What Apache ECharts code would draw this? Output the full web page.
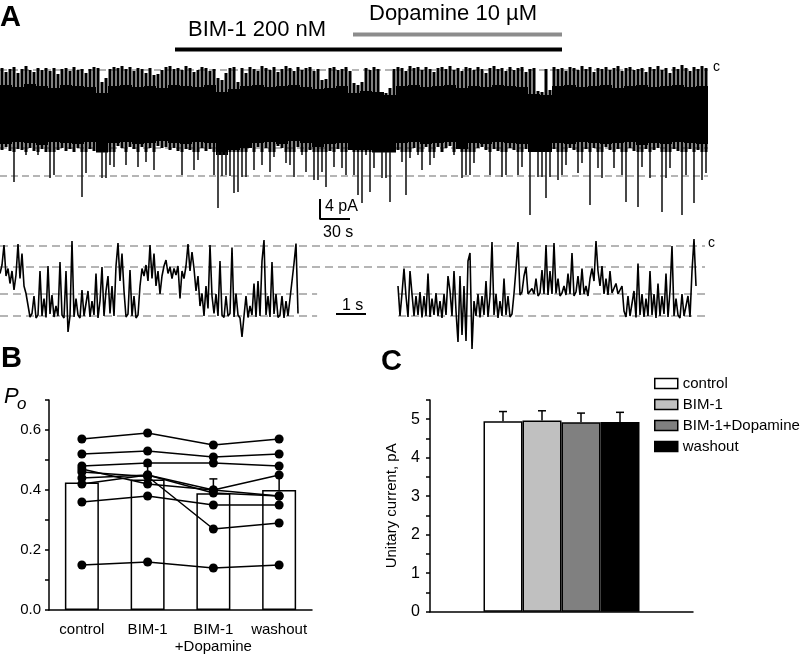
<!DOCTYPE html>
<html><head><meta charset="utf-8">
<script src="https://cdn.jsdelivr.net/npm/echarts@6/dist/echarts.min.js"></script>
<style>html,body{margin:0;padding:0;background:#fff}#c{width:805px;height:659px}</style>
</head><body><div id="c"></div>
<script>
// ===== Panel A: long recording (current in pA, c = closed level 0; time in s) =====
const topBinSec = 4;            // each bin = 4 s
const topTraceEnd = 708;        // s
// top (most positive) excursion of the trace in each 4-s bin
const topHi = [0.4,-0.4,0.2,0.6,-0.6,0.2,0.8,0,-0.4,0.4,0,0.4,-0.2,0.4,-0.8,0.2,0.4,-0.2,0.6,0,0.2,-0.6,0.2,0.6,0.4,
  -2.4,-1.6,
  0.2,0.6,0.4,0.8,0.2,0.6,-0.2,0.4,0.2,-0.6,0.4,
  -1,-0.8,0,
  0.6,0.8,0.2,0.4,0,0.8,0.4,-0.4,0,0.6,0.4,-0.2,0.2,
  -1.6,-2,-0.6,
  0.4,0.6,
  -2.4,
  0.4,-0.6,0.6,0.2,-0.2,0.8,0.4,0,0.6,-0.4,0.2,0.8,0.4,-0.2,0.6,0,0.4,0.6,-0.2,0.2,
  -2,-1.8,
  0.4,0.6,0,0.2,0.6,-0.2,
  -2.6,-3,-2.4,
  0.4,0,0.6,0.2,
  -4.4,-4.6,-3.6,
  0.2,0.6,0.4,-0.2,0.8,0.4,0.6,0,0.6,0.2,-0.4,0.4,0.6,0.2,0.8,0,0.4,-0.2,0.6,0.4,0,0.6,0.2,-0.6,0.4,0.8,0.2,0.4,-0.2,0.6,0,0.4,0.6,-0.4,0.2,0.4,
  -4.2,-4.4,0.2,-4,
  0.6,0.2,0.4,-0.2,0.6,0.4,0,0.8,0.2,0.6,-0.4,0.4,0.2,0.6,0,0.4,0.8,-0.2,0.4,0.6,0,0.2,0.4,-0.4,0.6,0.2,0.8,0,0.4,-0.6,0.6,0.2,1.0,0.4,-0.2,0.6,0.2,0.8,0.4];
// bottom (most negative) excursion of the trace in each 4-s bin
const topLo = [-16,-15.4,-16.2,-22.4,-15.8,-16,-17,-15.6,-16.2,-17,
  -15.8,-16.4,-21.6,-21,-16,-15.6,-16.2,-15.8,-16.4,-15.6,
  -25.4,-20.6,-15.8,-16.2,-15.4,-21.6,-21.6,-19,-19.4,-15.2,
  -15.6,-19,-15.4,-15.8,-19.4,-15.4,-18.4,-15.6,-20,-15.2,
  -15.6,-15.4,-16,-15.6,-16.2,-21,-15.8,-16,-20,-18,
  -15.6,-16.2,-15.8,-21,-27.6,-21.2,-21,-21.2,-24.6,-24.4,
  -21.4,-21.4,-15.6,-20,-15.4,-19,-15.6,-20.4,-17.4,-15.2,
  -15.6,-18.6,-19,-21.4,-15.4,-17,-20.4,-16,-22,-22,
  -20.4,-23.4,-16.2,-19.4,-15.8,-19.6,-21,-16,-21,-25,
  -26.6,-17,-24.4,-19.6,-16,-21.6,-21.6,-26.4,-15.8,-16,
  -18.4,-25,-17.6,-15.6,-17,-20,-15.4,-19,-17.6,-15.4,
  -16.4,-15.6,-15.2,-17,-15.6,-21.6,-21,-21,-18.6,-15.6,
  -15.4,-16,-21,-15.8,-16.2,-21.4,-21,-15.6,-16,-21,
  -19.4,-15.8,-29,-16,-21.4,-21.4,-25.6,-21.4,-15.8,-22,
  -21,-19,-15.6,-16,-20.6,-18.6,-15.8,-27,-15.6,-19.6,
  -21.6,-15.4,-16,-19.6,-15.8,-21,-26.4,-15.6,-16.2,-27.4,
  -19.4,-15.8,-21.6,-16,-15.6,-28.4,-21.6,-19.6,-15.8,-16.2,
  -29,-21,-15.8,-26.6,-16,-22,-20.6];
// dense body of the trace (12-s bins)
const bodyBinSec = 12;
const bodyTop = [-3,-3.4,-2.8,-3.2,-3.6,-3,-3.2,-3.4,-4.6,-3.2,
  -3,-3.4,-3.2,-3.6,-3,-3.2,-3.4,-3,-4.4,-3.8,
  -3.2,-3,-3.4,-3.2,-3,-3.4,-3.8,-3.6,-3.2,-4.6,
  -4.2,-4.4,-5,-3.2,-3,-3.4,-3.2,-3,-3.6,-3.2,
  -3.4,-3,-3.2,-3.4,-4.8,-5,-3.2,-3,-3.4,-3.2,
  -3,-3.6,-3.2,-3,-3.4,-3.2,-3,-3.4,-3.2];
const bodyBot = [-14.8,-14.4,-14.6,-15,-14.4,-14.6,-14.8,-14.4,-16.5,-14.6,
  -14.4,-14.8,-14.6,-14.2,-14.6,-14.8,-14.4,-14.6,-17,-16,
  -15.6,-14.6,-14.4,-14.8,-14.2,-14.6,-15.4,-14.8,-14.6,-16,
  -16,-16.5,-16.5,-14.6,-14.4,-14.8,-14.6,-14.4,-15.8,-14.6,
  -14.8,-14.4,-14.6,-14.8,-16.4,-16.4,-14.6,-14.8,-14.4,-14.6,
  -14.8,-14.6,-14.4,-15,-14.6,-14.8,-14.4,-14.6,-14.8];
const topLevels = [0, -15.6, -21.2];
const drugNames = ['Dopamine 10 µM', 'BIM-1 200 nM'];
const drugSpans = [[353, 562], [175, 562]];
const scaleOrigin = [320, -29.8];
const scalePA = 4, scaleSec = 30;

// ===== Panel A: expanded traces (pA, 1/15-s samples) =====
const lowDt = 1 / 15;
const lowLeftStart = 0;
const lowLeft = [-5.5,-3.8,0.2,-6,-4.5,-7.5,-5,-8.8,-5.8,0.4,
  -6.5,-1.5,-8,-9.5,-9.8,-14.2,-13.5,-10,-14.4,-13.8,
  -5,-14,-10.5,-14.3,-4,-13.6,-9.8,-14.2,-12,-14,
  -3.2,-13.8,-14.4,-5,-17.2,-14,1.0,-14.2,-10.5,-13.8,
  -14.4,-8.8,-14,-13.6,-9,-14.2,-11,-13.8,-5.5,-14.4,
  -11,-4.2,-14,-9,-6,-13.5,-8,-14,-4,0.6,
  -7,-1.5,-9,-14.2,-13.6,-4.8,-14,-10,-14.4,-13.8,
  -8,-4.5,-6,-3.8,-7,0.2,-6.5,-1.5,-8,-5,
  -9.6,-6,-4,-2.8,-5.5,-4.2,-6.5,-4.5,-5.8,-4,
  -10.5,-5,-6.5,-4,0.4,-5,-1.2,-4.5,-9,-6,
  -12,-9.5,-14,-8,-12.5,0.2,-10,-13.5,-9.6,-14,
  -3,-13.8,-14.3,-10,-14,-13.5,-0.3,-14.2,-9.5,-13.8,
  -14.4,-18.2,-14,-10,-14.3,-12,-13.8,-7.5,-14.2,-7,
  -14,-3,1.2,-13.8,-10,-14.2,-3.2,-13.6,-9.6,-14.3,
  -13.8,-10,-14.4,-11,-14,-13.6,-7,-3.5,0.5,-13.5];
const lowRightStart = 398 / 30;
const lowRight = [-8,-14,-9.5,-4.5,-10,-14.2,-5,-9.6,-14,-10,
  -13.8,-9.2,-14.3,-10,-14,-5.5,-14.2,-10.5,-13.8,-9.4,
  -14,-11,-14.4,-9.6,-13.8,-6,-9,-14,-5,-13,
  -19.2,-6,-17.8,-8,-19,-3,-1.4,-20.6,-11,-14,
  -9.6,-14.3,-10,-13.8,-7,-14.2,-10,0.8,-13.8,-9.6,
  -14.4,-11,-14,-6.5,-13.8,-10,-14.2,-13.6,-9.5,-4.5,
  0.8,-9.8,-9.2,-6,-4.2,-9.6,-9.8,-8.5,-9.6,-6.5,
  -10,-9.4,-4.8,-9.6,0.2,-9.8,-5,-9.6,0.6,-9.5,
  -6.5,-10,-9.4,-8,-9.8,-5.5,-9.6,-1.4,-10,-9.2,
  -6,-9.8,-4.5,-9.6,-8,-10,-6.5,-4.5,-7,1.0,
  -5,-8,-4,-9.6,-6.5,-9.8,-5,-9.4,-9.8,-7.5,
  -9.6,-10,-8,-13,-14.2,-10,-14,-13.6,-9,-14.3,
  -3.5,-13.8,-9.6,-14.2,-10.5,-14,-5,-13.8,-9.6,-14.4,
  -7.5,-14,-10,-13.6,-5.5,-14.2,-9,0,-14,-10.5,
  -13.8,-14.4,-9.6,-14,-13.6,-10,-14.2,-5,1.4,-8];
const lowLevels = [0, -4.2, -9.6, -14];
const lowLevelSpans = [
  [[0, 23.5]],
  [[0, 23.5]],
  [[0, 10.57], [13.27, 23.5]],
  [[0, 10.57], [13.27, 23.5]]
];
const oneSecBar = [11.2, 12.2, -13.6];

// ===== Panel B: open probability =====
const poCategories = ['control', 'BIM-1', 'BIM-1\n+Dopamine', 'washout'];
const poMean = [0.425, 0.435, 0.389, 0.40];
const poSem = [0.035, 0.045, 0.048, 0.053];
const poCells = [
  [0.57, 0.59, 0.55, 0.57],
  [0.52, 0.53, 0.51, 0.52],
  [0.48, 0.49, 0.49, 0.48],
  [0.46, 0.445, 0.27, 0.29],
  [0.44, 0.45, 0.40, 0.45],
  [0.42, 0.45, 0.39, 0.38],
  [0.47, 0.42, 0.40, 0.38],
  [0.36, 0.38, 0.35, 0.35],
  [0.15, 0.16, 0.14, 0.15]
];
const poTicks = [0, 0.2, 0.4, 0.6];

// ===== Panel C: unitary current =====
const icNames = ['control', 'BIM-1', 'BIM-1+Dopamine', 'washout'];
const icMean = [4.95, 4.97, 4.92, 4.93];
const icSem = [0.25, 0.25, 0.24, 0.25];
const icColors = ['#ffffff', '#c0c0c0', '#808080', '#000000'];

// ------------------------------------------------------------
const FONT = "'Liberation Sans', Arial, sans-serif";
const chart = echarts.init(document.getElementById('c'), null, {renderer: 'canvas'});

const hidAxis = (o) => Object.assign({show: false, splitLine: {show: false}}, o);
const spikeEdge = -16.4;   // below this the excursions are drawn as thin spikes

const series = [];

// --- top trace dashed levels
topLevels.forEach(l => series.push({
  type: 'line', xAxisIndex: 0, yAxisIndex: 0, data: [[0, l], [topTraceEnd, l]],
  symbol: 'none', silent: true, z: 1,
  lineStyle: {color: '#b5b5b5', width: 2, type: [7, 4]}
}));
// --- body
series.push({
  type: 'custom', xAxisIndex: 0, yAxisIndex: 0, z: 2, silent: true,
  data: bodyTop.map((t, i) => [i * bodyBinSec, Math.min((i + 1) * bodyBinSec, topTraceEnd), t, bodyBot[i]]),
  renderItem(params, api) {
    const p0 = api.coord([api.value(0), api.value(2)]);
    const p1 = api.coord([api.value(1), api.value(3)]);
    return {type: 'rect', shape: {x: p0[0], y: p0[1], width: p1[0] - p0[0], height: p1[1] - p0[1]}, style: {fill: '#000'}};
  }
});
// --- bins excursions
series.push({
  type: 'custom', xAxisIndex: 0, yAxisIndex: 0, z: 3, silent: true,
  data: topHi.map((h, i) => [i * topBinSec + topBinSec / 2, h, topLo[i]]),
  renderItem(params, api) {
    const t = api.value(0), hi = api.value(1), lo = api.value(2);
    const a = api.coord([t, hi]);
    const m = api.coord([t, Math.max(lo, spikeEdge)]);
    const children = [{type: 'line', shape: {x1: a[0], y1: a[1], x2: m[0], y2: m[1]}, style: {stroke: '#000', lineWidth: 3}}];
    if (lo < spikeEdge) {
      const b = api.coord([t, lo]);
      children.push({type: 'line', shape: {x1: m[0], y1: m[1], x2: b[0], y2: b[1]}, style: {stroke: '#1a1a1a', lineWidth: 1.6}});
    }
    return {type: 'group', children};
  }
});
// --- scale bar
series.push({
  type: 'line', xAxisIndex: 0, yAxisIndex: 0, symbol: 'none', silent: true, z: 3,
  data: [[scaleOrigin[0], scaleOrigin[1] + scalePA], scaleOrigin, [scaleOrigin[0] + scaleSec, scaleOrigin[1]]],
  lineStyle: {color: '#000', width: 2}
});
// --- drug bars
series.push({
  type: 'line', xAxisIndex: 1, yAxisIndex: 1, symbol: 'none', silent: true,
  data: drugSpans[0].map(t => [t, drugNames[0]]), lineStyle: {color: '#8c8c8c', width: 4}
});
series.push({
  type: 'line', xAxisIndex: 1, yAxisIndex: 1, symbol: 'none', silent: true,
  data: drugSpans[1].map(t => [t, drugNames[1]]), lineStyle: {color: '#000', width: 4}
});
// --- expanded traces: levels
lowLevels.forEach((l, k) => lowLevelSpans[k].forEach(sp => series.push({
  type: 'line', xAxisIndex: 2, yAxisIndex: 2, data: [[sp[0], l], [sp[1], l]],
  symbol: 'none', silent: true, z: 1,
  lineStyle: {color: '#b5b5b5', width: 2, type: [8, 5]}
})));
[[lowLeftStart, lowLeft], [lowRightStart, lowRight]].forEach(([t0, arr]) => series.push({
  type: 'line', xAxisIndex: 2, yAxisIndex: 2, symbol: 'none', silent: true, z: 3,
  data: arr.map((v, i) => [t0 + i * lowDt, v]),
  lineStyle: {color: '#000', width: 1.6}
}));
series.push({
  type: 'line', xAxisIndex: 2, yAxisIndex: 2, symbol: 'none', silent: true, z: 3,
  data: [[oneSecBar[0], oneSecBar[2]], [oneSecBar[1], oneSecBar[2]]],
  lineStyle: {color: '#000', width: 2}
});
// --- Panel B
series.push({
  type: 'bar', xAxisIndex: 3, yAxisIndex: 3, data: poMean, barWidth: 34, z: 1, silent: true,
  itemStyle: {color: '#fff', borderColor: '#000', borderWidth: 1.5}
});
series.push({
  type: 'custom', xAxisIndex: 3, yAxisIndex: 3, z: 2, silent: true,
  data: poMean.map((m, i) => [i, m, m + poSem[i]]),
  renderItem(params, api) {
    const b = api.coord([api.value(0), api.value(1)]);
    const t = api.coord([api.value(0), api.value(2)]);
    return {type: 'group', children: [
      {type: 'line', shape: {x1: b[0], y1: b[1], x2: t[0], y2: t[1]}, style: {stroke: '#000', lineWidth: 1.5}},
      {type: 'line', shape: {x1: t[0] - 4, y1: t[1], x2: t[0] + 4, y2: t[1]}, style: {stroke: '#000', lineWidth: 1.5}}
    ]};
  }
});
poCells.forEach(cell => series.push({
  type: 'line', xAxisIndex: 3, yAxisIndex: 3, data: cell, z: 3, silent: true,
  symbol: 'circle', symbolSize: 9, itemStyle: {color: '#000'},
  lineStyle: {color: '#000', width: 1.5}
}));
// --- Panel C
const icBarWidth = 39;
icNames.forEach((n, i) => series.push({
  type: 'bar', name: n, xAxisIndex: 4, yAxisIndex: 4, data: [icMean[i]], barWidth: icBarWidth, barGap: '0%',
  silent: true, itemStyle: {color: icColors[i], borderColor: '#000', borderWidth: 1.5}
}));
series.push({
  type: 'custom', xAxisIndex: 4, yAxisIndex: 4, z: 3, silent: true,
  data: icMean.map((m, i) => [0, m, m + icSem[i], i]),
  renderItem(params, api) {
    const b = api.coord([api.value(0), api.value(1)]);
    const t = api.coord([api.value(0), api.value(2)]);
    const cx = b[0] + (api.value(3) - (icNames.length - 1) / 2) * icBarWidth;
    return {type: 'group', children: [
      {type: 'line', shape: {x1: cx, y1: b[1], x2: cx, y2: t[1]}, style: {stroke: '#000', lineWidth: 1.5}},
      {type: 'line', shape: {x1: cx - 4, y1: t[1], x2: cx + 4, y2: t[1]}, style: {stroke: '#000', lineWidth: 1.5}}
    ]};
  }
});

const txt = (x, y, text, size, extra) => ({
  type: 'text', x, y, silent: true,
  style: Object.assign({text, fontSize: size, fontFamily: FONT, fill: '#000',
    textAlign: 'left', textVerticalAlign: 'middle', align: 'left', verticalAlign: 'middle'}, extra || {})
});

const axisBlack = {lineStyle: {color: '#000', width: 1.5}};

chart.setOption({
  animation: false,
  backgroundColor: '#fff',
  textStyle: {fontFamily: FONT},
  grid: [
    {left: 0, top: 60, width: 710, height: 160, outerBoundsMode: 'none'},
    {left: 0, top: 27, width: 710, height: 30, outerBoundsMode: 'none'},
    {left: 0, top: 236, width: 710, height: 115, outerBoundsMode: 'none'},
    {left: 49, top: 400, width: 263, height: 210, outerBoundsMode: 'none'},
    {left: 430, top: 400, width: 263, height: 211.7, outerBoundsMode: 'none'}
  ],
  xAxis: [
    hidAxis({type: 'value', gridIndex: 0, min: 0, max: 710}),
    hidAxis({type: 'value', gridIndex: 1, min: 0, max: 710}),
    hidAxis({type: 'value', gridIndex: 2, min: 0, max: 710 / 30}),
    {type: 'category', gridIndex: 3, data: poCategories, axisTick: {show: false},
     axisLine: axisBlack,
     axisLabel: {color: '#000', fontSize: 15, margin: 11, lineHeight: 17, fontFamily: FONT, interval: 0}},
    {type: 'category', gridIndex: 4, data: [''], axisTick: {show: false}, axisLabel: {show: false},
     axisLine: axisBlack}
  ],
  yAxis: [
    hidAxis({type: 'value', gridIndex: 0, min: -30, max: 2}),
    hidAxis({type: 'category', gridIndex: 1, data: drugNames, inverse: true}),
    hidAxis({type: 'value', gridIndex: 2, min: -21, max: 2}),
    {type: 'value', gridIndex: 3, min: 0, max: 0.7, interval: 0.1, splitLine: {show: false},
     axisLine: {show: true, lineStyle: {color: '#000', width: 1.5}},
     axisTick: {show: true, length: 4, lineStyle: {color: '#000', width: 1.5}},
     axisLabel: {color: '#000', fontSize: 15, margin: 8, fontFamily: FONT,
       formatter: v => poTicks.some(t => Math.abs(t - v) < 1e-6) ? v.toFixed(1) : ''}},
    {type: 'value', gridIndex: 4, min: 0, max: 5.5, interval: 0.5, splitLine: {show: false},
     name: 'Unitary current, pA', nameLocation: 'middle', nameGap: 31,
     nameTextStyle: {color: '#000', fontSize: 15, fontFamily: FONT},
     axisLine: {show: true, lineStyle: {color: '#000', width: 1.5}},
     axisTick: {show: true, length: 4, lineStyle: {color: '#000', width: 1.5}},
     axisLabel: {color: '#000', fontSize: 16, margin: 10, fontFamily: FONT,
       formatter: v => Math.abs(v - Math.round(v)) < 1e-6 ? String(Math.round(v)) : ''}}
  ],
  legend: {
    data: icNames, orient: 'vertical', left: 654, top: 376, padding: 0,
    itemWidth: 23, itemHeight: 10, itemGap: 6,
    icon: 'rect', selectedMode: false,
    itemStyle: {borderColor: '#000', borderWidth: 1.5},
    textStyle: {color: '#000', fontSize: 15, fontFamily: FONT}
  },
  series,
  graphic: [
    txt(0, 18, 'A', 29, {fontWeight: 'bold'}),
    txt(188, 29.5, drugNames[1], 22),
    txt(369, 13.5, drugNames[0], 22),
    txt(325, 207, '4 pA', 16),
    txt(323, 233, '30 s', 16),
    txt(713, 67, 'c', 14),
    txt(708, 243, 'c', 14),
    txt(342, 306, '1 s', 16),
    txt(1, 359, 'B', 29, {fontWeight: 'bold'}),
    txt(4, 397, 'P', 22, {fontStyle: 'italic'}),
    txt(17, 404, 'o', 17, {fontStyle: 'italic'}),
    txt(381, 362, 'C', 29, {fontWeight: 'bold'})
  ]
});
</script>
</body></html>
